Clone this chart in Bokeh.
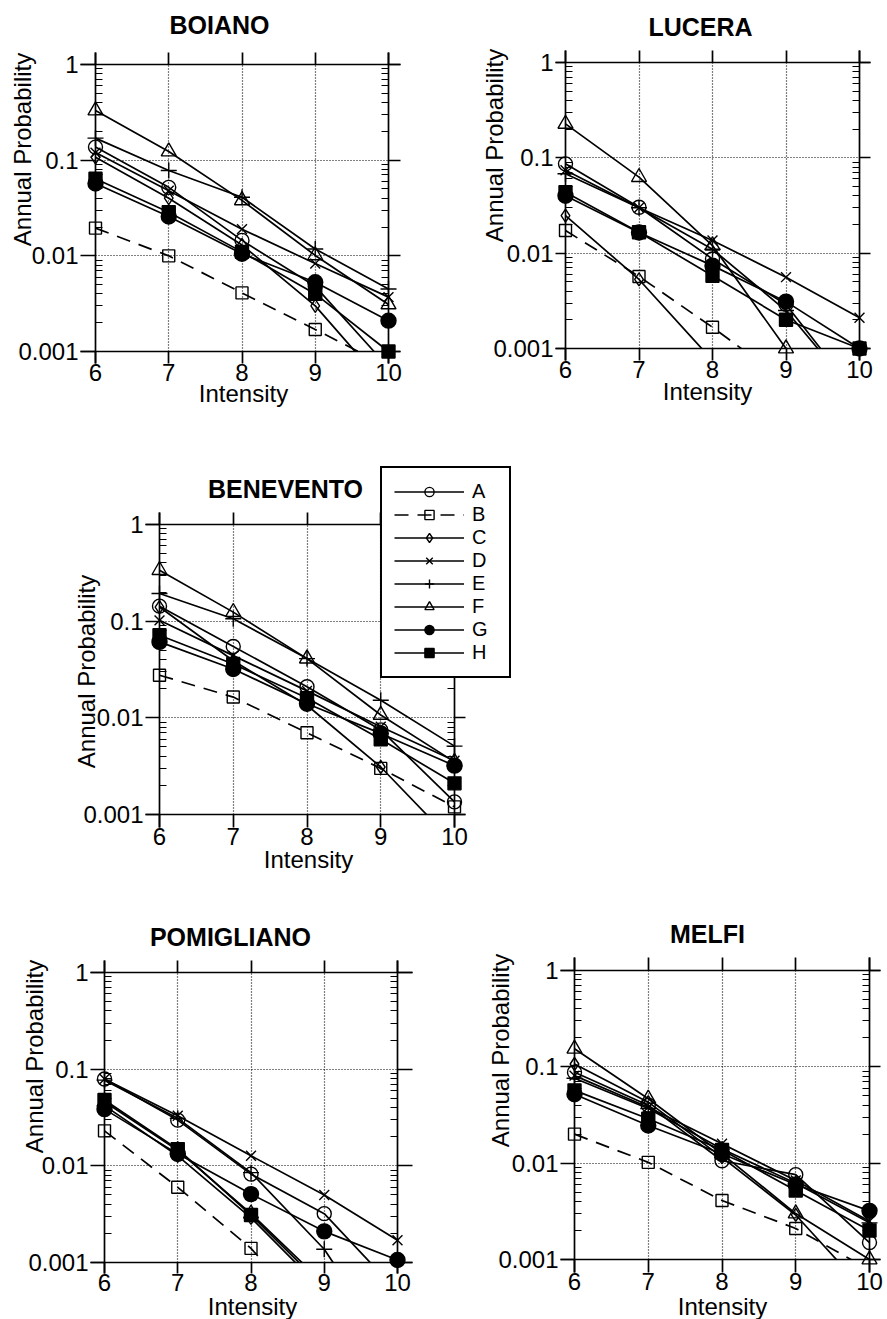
import math
from bokeh.plotting import figure
from bokeh.models import (FixedTicker, LinearAxis, LogAxis, Label, Legend, LegendItem,
                          CustomJSTickFormatter, Range1d, Spacer)
from bokeh.layouts import row, column
from bokeh.embed import file_html
from bokeh.resources import INLINE

FONT = "Liberation Sans"
LW = 1.7

# ---------------- data ----------------
intensity = [6, 7, 8, 9, 10]
series = ["A", "B", "C", "D", "E", "F", "G", "H"]
y_ticks = [0.001, 0.01, 0.1, 1]
y_tick_labels = ["0.001", "0.01", "0.1", "1"]
y_minor_ticks = [m * t for t in y_ticks[:-1] for m in range(2, 10)]

boiano = {
    "A": [0.137, 0.052, 0.0145, 0.0048, 0.00068],
    "B": [0.0195, 0.010, 0.0041, 0.0017, 0.00069],
    "C": [0.107, 0.040, 0.013, 0.0030, 0.0004],
    "D": [0.12, 0.048, 0.019, 0.0083, 0.0037],
    "E": [0.17, 0.078, 0.041, 0.0118, 0.0045],
    "F": [0.33, 0.123, 0.038, 0.0101, 0.0031],
    "G": [0.057, 0.0258, 0.0105, 0.0053, 0.0021],
    "H": [0.064, 0.0286, 0.011, 0.0040, 0.0010],
}
lucera = {
    "A": [0.0865, 0.0303, 0.0087, 0.0029, 0.0003],
    "B": [0.0173, 0.0057, 0.00167, 0.00045, 0.0001],
    "C": [0.0248, 0.0053, 0.00075, 0.0001, 0.00002],
    "D": [0.074, 0.030, 0.0136, 0.0056, 0.0021],
    "E": [0.068, 0.030, 0.011, 0.0025, 0.0003],
    "F": [0.227, 0.0627, 0.012, 0.0010, 0.0001],
    "G": [0.040, 0.0165, 0.0074, 0.0031, 0.0010],
    "H": [0.0436, 0.0166, 0.0058, 0.0020, 0.0010],
}
benevento = {
    "A": [0.143, 0.0547, 0.021, 0.0075, 0.00135],
    "B": [0.0276, 0.0164, 0.0070, 0.0030, 0.0012],
    "C": [0.140, 0.039, 0.0135, 0.0031, 0.0005],
    "D": [0.102, 0.044, 0.019, 0.0081, 0.0036],
    "E": [0.193, 0.106, 0.041, 0.0152, 0.0051],
    "F": [0.337, 0.124, 0.041, 0.0107, 0.0035],
    "G": [0.061, 0.032, 0.014, 0.0069, 0.0032],
    "H": [0.0716, 0.036, 0.016, 0.0060, 0.0021],
}
pomigliano = {
    "A": [0.079, 0.0297, 0.0082, 0.0032, 0.0005],
    "B": [0.023, 0.0060, 0.0014, 0.0002, 0.00005],
    "C": [0.042, 0.0127, 0.0029, 0.0005, 0.0001],
    "D": [0.079, 0.033, 0.0127, 0.0050, 0.0017],
    "E": [0.077, 0.031, 0.0085, 0.00137, 0.0001],
    "F": [0.046, 0.0145, 0.0032, 0.0006, 0.0001],
    "G": [0.0386, 0.0133, 0.0051, 0.0021, 0.00106],
    "H": [0.048, 0.0149, 0.0031, 0.00055, 0.0001],
}
melfi = {
    "A": [0.088, 0.040, 0.0106, 0.0076, 0.0015],
    "B": [0.020, 0.0102, 0.0041, 0.0021, 0.00078],
    "C": [0.107, 0.043, 0.0115, 0.0029, 0.00042],
    "D": [0.081, 0.038, 0.0159, 0.0066, 0.0025],
    "E": [0.076, 0.037, 0.014, 0.0062, 0.0024],
    "F": [0.154, 0.0466, 0.0125, 0.0030, 0.0010],
    "G": [0.052, 0.0246, 0.0125, 0.0060, 0.0032],
    "H": [0.057, 0.0289, 0.0137, 0.0052, 0.0020],
}

# ---------------- styles ----------------
styles = {
    "A": dict(marker="circle", size=14, fill_color=None, dash="solid"),
    "B": dict(marker="square", size=12, fill_color=None, dash="14 9"),
    "C": dict(marker="diamond", size=13, fill_color=None, dash="solid"),
    "D": dict(marker="x", size=14, fill_color=None, dash="solid"),
    "E": dict(marker="cross", size=16, fill_color=None, dash="solid"),
    "F": dict(marker="triangle", size=15, fill_color=None, dash="solid"),
    "G": dict(marker="circle", size=15, fill_color="black", dash="solid"),
    "H": dict(marker="square", size=13, fill_color="black", dash="solid"),
}

y_formatter_code = """
const i = vals.findIndex(v => Math.abs(Math.log10(v) - Math.log10(tick)) < 1e-6);
return i >= 0 ? labs[i] : "";
"""


def style_axis(ax, tick_out, show_labels, minor_in=0, standoff=2, tick_in=0,
               dash="solid", line=True, width=LW):
    ax.axis_line_color = "black" if line else None
    ax.axis_line_width = LW
    ax.major_tick_line_color = "black"
    ax.major_tick_line_width = width
    ax.major_tick_line_dash = dash
    ax.major_tick_out = tick_out
    ax.major_tick_in = tick_in
    ax.minor_tick_line_color = "black" if minor_in else None
    ax.minor_tick_line_width = 1.2
    ax.minor_tick_in = minor_in
    ax.minor_tick_out = 0
    ax.major_label_text_font = FONT
    ax.major_label_text_font_size = "24px"
    ax.major_label_text_color = "black" if show_labels else None
    ax.major_label_standoff = standoff


def add_text(p, text, xy, size, bold=False, angle=0.0):
    p.add_layout(Label(x=xy[0], y=xy[1], x_units="screen", y_units="screen", text=text,
                       angle=angle, text_font=FONT, text_font_size=size,
                       text_font_style="bold" if bold else "normal",
                       text_align="center", text_baseline="alphabetic", text_color="black"))


def make_panel(name, data, width, height, box, pads, title_xy, ylab_xy, xlab_xy,
               legend_xy=None):
    # box = (left, right, top, bottom) of the drawn frame, canvas pixels from top-left
    L, R, T, B = box
    pl, pr, pt, pb = pads
    x0, x1 = intensity[0], intensity[-1]
    ly0, ly1 = math.log10(y_ticks[0]), math.log10(y_ticks[-1])
    X6, X10 = L + pl, R - pr
    Y1, Y3 = T + pt, B - pb
    upx = (x1 - x0) / (X10 - X6)
    dpx = (ly1 - ly0) / (Y3 - Y1)
    xr = Range1d(x0 - X6 * upx, x1 + (width - X10) * upx)
    yr = Range1d(10 ** (ly0 - (height - Y3) * dpx), 10 ** (ly1 + Y1 * dpx))
    box_x = (x0 - pl * upx, x1 + pr * upx)
    box_y = (10 ** (ly0 - pb * dpx), 10 ** (ly1 + pt * dpx))

    p = figure(width=width, height=height, x_range=xr, y_range=yr, y_axis_type="log",
               title=None, toolbar_location=None, output_backend="svg",
               min_border_left=0, min_border_right=0, min_border_top=0,
               min_border_bottom=0)
    p.outline_line_color = None
    p.background_fill_color = "white"
    p.border_fill_color = "white"
    p.xgrid.visible = False
    p.ygrid.visible = False

    # bottom axis at y = 0.001 (labels)
    xa = p.xaxis[0]
    xa.fixed_location = y_ticks[0]
    xa.bounds = box_x
    xa.ticker = FixedTicker(ticks=intensity)
    style_axis(xa, pb, True, standoff=0)
    # left axis at x = 6 (labels)
    ya = p.yaxis[0]
    ya.fixed_location = intensity[0]
    ya.bounds = box_y
    ya.ticker = FixedTicker(ticks=y_ticks, minor_ticks=y_minor_ticks)
    ya.formatter = CustomJSTickFormatter(args=dict(vals=y_ticks, labs=y_tick_labels),
                                         code=y_formatter_code)
    style_axis(ya, pl, True, minor_in=7, standoff=2)
    # top axis at y = 1
    ta = LinearAxis(fixed_location=y_ticks[-1], bounds=box_x,
                    ticker=FixedTicker(ticks=intensity))
    style_axis(ta, pt, False)
    p.add_layout(ta, "above")
    # right axis at x = 10
    ra = LogAxis(fixed_location=intensity[-1], bounds=box_y,
                 ticker=FixedTicker(ticks=y_ticks, minor_ticks=y_minor_ticks))
    style_axis(ra, pr, False, minor_in=7)
    p.add_layout(ra, "right")
    # dotted inner grid drawn as long inward ticks
    gx = LinearAxis(fixed_location=y_ticks[0], ticker=FixedTicker(ticks=intensity[1:-1]))
    style_axis(gx, 0, False, tick_in=int(round(Y3 - Y1)), dash="1 2", line=False, width=1.2)
    p.add_layout(gx, "below")
    gy = LogAxis(fixed_location=intensity[0], ticker=FixedTicker(ticks=y_ticks[1:-1]))
    style_axis(gy, 0, False, tick_in=int(round(X10 - X6)), dash="1 2", line=False, width=1.2)
    p.add_layout(gy, "left")

    line_r = {}
    for s in series:
        st = styles[s]
        line_r[s] = p.line(intensity, data[s], line_color="black", line_width=LW,
                           line_dash=st["dash"])
    # white mask: curves are cut at the 0.001 line
    p.quad(left=xr.start, right=xr.end, bottom=yr.start, top=y_ticks[0],
           fill_color="white", line_color=None)
    mark_r = {}
    for s in series:
        st = styles[s]
        pts = [(x, v) for x, v in zip(intensity, data[s]) if v >= y_ticks[0] * 0.999]
        xs = [a for a, _ in pts]
        ys = [b for _, b in pts]
        mark_r[s] = p.scatter(xs, ys, marker=st["marker"], size=st["size"],
                              fill_color=st["fill_color"],
                              line_color="black", line_width=1.4)

    add_text(p, name, title_xy, "25px", bold=True)
    add_text(p, "Annual Probability", ylab_xy, "24px", angle=math.pi / 2)
    add_text(p, "Intensity", xlab_xy, "24px")

    if legend_xy is not None:
        items = [LegendItem(label=s, renderers=[line_r[s], mark_r[s]]) for s in series]
        lg = Legend(items=items, location=legend_xy)
        lg.glyph_width = 70
        lg.glyph_height = 23
        lg.label_text_font = FONT
        lg.label_text_font_size = "20px"
        lg.label_text_color = "black"
        lg.label_standoff = 8
        lg.label_width = 25
        lg.label_height = 20
        lg.spacing = 0
        lg.padding = 12
        lg.margin = 0
        lg.border_line_color = "black"
        lg.border_line_alpha = 1.0
        lg.border_line_width = 2.5
        lg.background_fill_color = "white"
        lg.background_fill_alpha = 1.0
        p.add_layout(lg, "center")
    return p


p1 = make_panel("BOIANO", boiano, 440, 420, (80, 400, 52, 363), (15, 12, 12, 12),
                (219, 396), (22, 271), (243, 27))
p2 = make_panel("LUCERA", lucera, 447, 420, (115, 430, 50, 360), (10, 11, 12, 12),
                (260, 394), (54, 275), (267, 29))
p3 = make_panel("BENEVENTO", benevento, 492, 460, (97, 417, 92, 407), (14, 11, 12, 13),
                (237, 392), (38, 209), (260, 21), legend_xy=(332, 202))
p4 = make_panel("POMIGLIANO", pomigliano, 440, 439, (90, 412, 80, 393), (14, 15, 12, 11),
                (230, 383), (34, 263), (252, 13))
p5 = make_panel("MELFI", melfi, 447, 439, (120, 440, 77, 392), (14, 11, 13, 13),
                (267, 386), (60, 269), (282, 13))

layout = column(row(p1, p2), row(Spacer(width=48, height=460), p3), row(p4, p5))

open("out.html", "w").write(file_html(layout, INLINE))
